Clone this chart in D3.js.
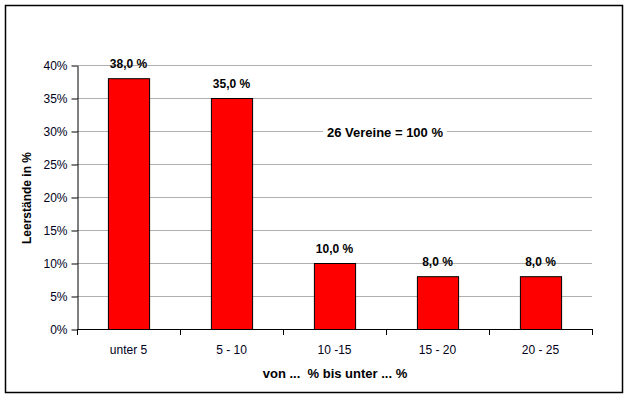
<!DOCTYPE html>
<meta charset="utf-8">
<script src="https://d3js.org/d3.v7.min.js"></script>
<style>
  body { margin: 0; background: #fff; }
  text { font-family: "Liberation Sans", Arial, sans-serif; }
</style>
<body>
<script>
// Chart data
const categories = ["unter 5", "5 - 10", "10 -15", "15 - 20", "20 - 25"];
const values = [38.0, 35.0, 10.0, 8.0, 8.0];
const yTicks = [0, 5, 10, 15, 20, 25, 30, 35, 40];

const W = 630, H = 399;

const svg = d3.select("body").append("svg")
    .attr("width", W)
    .attr("height", H);

// outer frame
svg.append("rect")
    .attr("x", 5.5).attr("y", 5.5)
    .attr("width", 617).attr("height", 387)
    .attr("fill", "#fff")
    .attr("stroke", "#000")
    .attr("stroke-width", 1.5);

const x = d3.scaleBand()
    .domain(categories)
    .range([77, 592])
    .paddingInner(0.6)
    .paddingOuter(0.3);

const y = d3.scaleLinear()
    .domain([0, 40])
    .range([329, 65]);

// gridlines
svg.append("g")
    .selectAll("line")
    .data(yTicks.filter(d => d > 0))
    .join("line")
    .attr("x1", 77).attr("x2", 592)
    .attr("y1", d => y(d) + 0.5).attr("y2", d => y(d) + 0.5)
    .attr("stroke", "#b0b0b0")
    .attr("stroke-width", 1);

// y axis
const yAxis = svg.append("g")
    .attr("transform", "translate(77.5,0.5)")
    .call(d3.axisLeft(y).tickValues(yTicks).tickSize(6).tickSizeOuter(0).tickFormat(d => d + "%"));
yAxis.select(".domain").attr("stroke", "#000");
yAxis.selectAll(".tick line").attr("stroke", "#000");
yAxis.selectAll(".tick text")
    .attr("x", -10)
    .attr("fill", "#000020")
    .style("font-size", "12px");

// bars
svg.append("g")
    .selectAll("rect")
    .data(values)
    .join("rect")
    .attr("x", (d, i) => x(categories[i]) + 0.5)
    .attr("y", d => y(d) + 0.5)
    .attr("width", x.bandwidth())
    .attr("height", d => y(0) - y(d))
    .attr("fill", "#ff0000")
    .attr("stroke", "#000")
    .attr("stroke-width", 1);

// x axis
const xStep = x.step();
const boundaries = d3.range(categories.length + 1).map(i => 77 + i * xStep);
const xAxis = svg.append("g");
xAxis.append("line")
    .attr("x1", 77).attr("x2", 592)
    .attr("y1", 329.5).attr("y2", 329.5)
    .attr("stroke", "#000");
xAxis.selectAll(".xt")
    .data(boundaries)
    .join("line")
    .attr("class", "xt")
    .attr("x1", d => Math.round(d) + 0.5).attr("x2", d => Math.round(d) + 0.5)
    .attr("y1", 329).attr("y2", 335)
    .attr("stroke", "#000");
xAxis.selectAll("text")
    .data(categories)
    .join("text")
    .attr("x", d => x(d) + x.bandwidth() / 2)
    .attr("y", 354)
    .attr("text-anchor", "middle")
    .attr("fill", "#000020")
    .style("font-size", "12px")
    .text(d => d);

// value labels
svg.append("g")
    .selectAll("text")
    .data(values)
    .join("text")
    .attr("x", (d, i) => x(categories[i]) + x.bandwidth() / 2)
    .attr("y", d => y(d) - 10)
    .attr("text-anchor", "middle")
    .attr("fill", "#000")
    .style("font-size", "12px")
    .style("font-weight", "bold")
    .text(d => d3.format(".1f")(d).replace(".", ",") + " %");

// note box
const note = svg.append("g").attr("transform", "translate(385,132)");
note.append("rect")
    .attr("x", -62).attr("y", -9).attr("width", 124).attr("height", 16)
    .attr("fill", "#fff");
note.append("text")
    .attr("y", 5)
    .attr("text-anchor", "middle")
    .style("font-size", "13px")
    .style("font-weight", "bold")
    .text("26 Vereine = 100 %");

// axis titles
svg.append("text")
    .attr("x", 335).attr("y", 378)
    .attr("text-anchor", "middle")
    .style("font-size", "13px")
    .style("font-weight", "bold")
    .style("white-space", "pre")
    .text("von ...  % bis unter ... %");

svg.append("text")
    .attr("transform", "translate(31,198) rotate(-90)")
    .attr("text-anchor", "middle")
    .style("font-size", "12px")
    .style("font-weight", "bold")
    .text("Leerstände in %");
</script>
</body>
</html>
